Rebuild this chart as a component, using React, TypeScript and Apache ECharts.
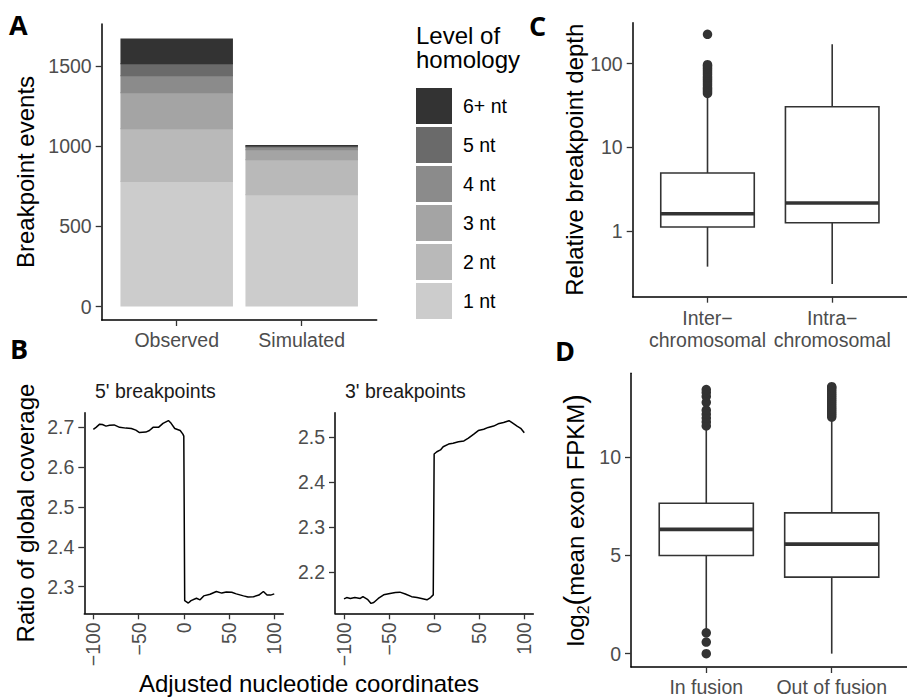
import React, { useEffect, useRef } from 'react';
import * as echarts from 'echarts';

// ---------- Panel A ----------
const barCategories = ['Observed', 'Simulated'];
const homologyLevels = ['1 nt', '2 nt', '3 nt', '4 nt', '5 nt', '6+ nt'];
const observedCounts = [785, 330, 224, 106, 75, 154];
const simulatedCounts = [703, 218, 62, 17, 6, 2];
const homologyColors = ['#cccccc', '#b9b9b9', '#a4a4a4', '#8b8b8b', '#6a6a6a', '#333333'];
const countTicks = [0, 500, 1000, 1500];

// ---------- Panel B ----------
const ntTicks = [-100, -50, 0, 50, 100];
const fivePrimeNt = [-100, -97, -93, -90, -86, -82, -77, -71, -64, -58, -53, -49, -42, -38, -34, -28, -23, -17, -14, -10, -4, -1, 0, 1, 5, 8, 14, 18, 22, 29, 36, 42, 47, 53, 58, 66, 71, 77, 83, 88, 92, 96, 100];
const fivePrimeRatio = [2.695, 2.700, 2.708, 2.707, 2.703, 2.705, 2.706, 2.700, 2.698, 2.697, 2.693, 2.687, 2.688, 2.692, 2.700, 2.700, 2.710, 2.717, 2.710, 2.697, 2.692, 2.683, 2.678, 2.265, 2.259, 2.265, 2.271, 2.267, 2.277, 2.281, 2.288, 2.284, 2.287, 2.286, 2.282, 2.277, 2.274, 2.275, 2.279, 2.288, 2.279, 2.279, 2.282];
const threePrimeNt = [-100, -97, -93, -88, -82, -79, -74, -70, -67, -62, -56, -49, -43, -38, -32, -25, -19, -14, -8, -4, -1, 0, 3, 7, 10, 16, 21, 27, 33, 38, 44, 49, 55, 60, 66, 71, 77, 83, 86, 92, 96, 100];
const threePrimeRatio = [2.141, 2.144, 2.142, 2.144, 2.142, 2.146, 2.140, 2.131, 2.133, 2.142, 2.150, 2.153, 2.155, 2.156, 2.152, 2.146, 2.144, 2.142, 2.139, 2.144, 2.150, 2.463, 2.468, 2.472, 2.479, 2.485, 2.487, 2.490, 2.492, 2.498, 2.507, 2.515, 2.518, 2.522, 2.525, 2.530, 2.533, 2.537, 2.533, 2.525, 2.520, 2.510];
const fivePrimeTicks = [2.3, 2.4, 2.5, 2.6, 2.7];
const threePrimeTicks = [2.2, 2.3, 2.4, 2.5];

// ---------- Panel C ----------
const depthCategories = ['Inter\u2212\nchromosomal', 'Intra\u2212\nchromosomal'];
// min, Q1, median, Q3, max
const interDepthBox = [0.375, 1.116, 1.61, 4.93, 40.2];
const intraDepthBox = [0.233, 1.256, 2.16, 30.5, 170];
const interDepthOutliers = [44, 46, 48, 50, 52, 55, 58, 61, 64, 67, 70, 74, 78, 82, 86, 90, 94, 97, 224];
const depthTicks = [1, 10, 100];

// ---------- Panel D ----------
const fpkmCategories = ['In fusion', 'Out of fusion'];
const inFusionBox = [1.2, 5.0, 6.33, 7.66, 11.5];
const outFusionBox = [0.0, 3.9, 5.58, 7.17, 11.95];
const inFusionOutliers = [0, 0.59, 1.06, 11.6, 11.8, 12.0, 12.2, 12.4, 12.8, 13.1, 13.3, 13.45];
const outFusionOutliers = [12.05, 12.15, 12.25, 12.35, 12.45, 12.55, 12.65, 12.75, 12.85, 12.95, 13.05, 13.15, 13.25, 13.35, 13.45, 13.55, 13.6];
const fpkmTicks = [0, 5, 10];

const FONT = '"Liberation Sans", Arial, Helvetica, sans-serif';
const TICK_COLOR = '#4d4d4d';
const TICK_SIZE = 19.5;
const TITLE_SIZE = 24;

const fmtMinus = (v: number) => String(v).replace('-', '\u2212');

function xAxisDef(gridIndex: number, min: number, max: number, ticks: number[], formatter: any, extraLabel: any = {}) {
  return {
    type: 'value', gridIndex, min, max,
    splitLine: { show: false },
    axisLine: { show: true, onZero: false, lineStyle: { color: '#000', width: 1.5 } },
    axisTick: { show: true, customValues: ticks, length: 6, lineStyle: { color: '#333', width: 1.3 } },
    axisLabel: { show: true, customValues: ticks, formatter, color: TICK_COLOR, fontSize: TICK_SIZE, fontFamily: FONT, margin: 10, ...extraLabel },
  };
}

function yAxisDef(gridIndex: number, min: number, max: number, ticks: number[], formatter: any, name: string, nameGap: number, nameStyle: any = {}) {
  return {
    type: 'value', gridIndex, min, max,
    splitLine: { show: false },
    axisLine: { show: true, onZero: false, lineStyle: { color: '#000', width: 1.5 } },
    axisTick: { show: true, customValues: ticks, length: 6, lineStyle: { color: '#333', width: 1.3 } },
    axisLabel: { show: true, customValues: ticks, formatter, color: TICK_COLOR, fontSize: TICK_SIZE, fontFamily: FONT, margin: 10 },
    name, nameLocation: 'middle', nameGap,
    nameTextStyle: { color: '#000', fontSize: TITLE_SIZE, fontFamily: FONT, ...nameStyle },
  };
}

// stacked bar segment: [x, lower, upper]
const renderStackBar = (params: any, api: any) => {
  const x = api.value(0);
  const lower = api.value(1);
  const p0 = api.coord([x - 0.45, lower]);
  const p1 = api.coord([x + 0.45, api.value(2)]);
  // overlap the segment below by 1px so no seam shows between stacked pieces
  const extra = lower > 0 ? 1.2 : 0;
  return {
    type: 'rect',
    shape: { x: p0[0], y: p1[1], width: p1[0] - p0[0], height: p0[1] - p1[1] + extra },
    style: { fill: api.visual('color') },
  };
};

const renderBox = (params: any, api: any) => {
  const x = api.value(0);
  const halfW = 0.375;
  const pMin = api.coord([x, api.value(1)]);
  const pQ1 = api.coord([x, api.value(2)]);
  const pMed = api.coord([x, api.value(3)]);
  const pQ3 = api.coord([x, api.value(4)]);
  const pMax = api.coord([x, api.value(5)]);
  const left = api.coord([x - halfW, api.value(3)])[0];
  const right = api.coord([x + halfW, api.value(3)])[0];
  const st = { stroke: '#333333', lineWidth: 1.6, fill: null };
  return {
    type: 'group',
    children: [
      { type: 'line', shape: { x1: pMin[0], y1: pMin[1], x2: pQ1[0], y2: pQ1[1] }, style: st },
      { type: 'line', shape: { x1: pQ3[0], y1: pQ3[1], x2: pMax[0], y2: pMax[1] }, style: st },
      { type: 'rect', shape: { x: left, y: pQ3[1], width: right - left, height: pQ1[1] - pQ3[1] }, style: { fill: '#ffffff', stroke: '#333333', lineWidth: 1.6 } },
      { type: 'line', shape: { x1: left, y1: pMed[1], x2: right, y2: pMed[1] }, style: { stroke: '#333333', lineWidth: 3.6 } },
    ],
  };
};

function buildOption() {
  const cum = [0, 0];
  const barSeries = homologyLevels.map((lvl, i) => {
    const counts = [observedCounts[i], simulatedCounts[i]];
    const data = counts.map((c, j) => {
      const lo = cum[j];
      cum[j] += c;
      return [j + 1, lo, cum[j], c];
    });
    return {
      name: lvl, type: 'custom', xAxisIndex: 0, yAxisIndex: 0,
      renderItem: renderStackBar,
      encode: { x: 0, y: [1, 2] },
      itemStyle: { color: homologyColors[i] },
      z: 2 + i * 0.01,
      data,
    };
  });

  const depthBoxData = [interDepthBox, intraDepthBox].map((b, i) => [i + 1, ...b.map((v) => Math.log10(v))]);
  const fpkmBoxData = [inFusionBox, outFusionBox].map((b, i) => [i + 1, ...b]);

  const letter = (t: string, x: number, y: number) => ({
    type: 'text', x, y,
    style: { text: t, font: `bold 27px "Open Sans", "DejaVu Sans", sans-serif`, fill: '#000', textVerticalAlign: 'middle' },
  });
  const txt = (t: string, x: number, y: number, size: number, color = '#000', align = 'left') => ({
    type: 'text', x, y,
    style: { text: t, font: `${size}px ${FONT}`, fill: color, textVerticalAlign: 'middle', textAlign: align },
  });

  return {
    animation: false,
    backgroundColor: '#ffffff',
    grid: [
      { left: 101.7, top: 24, width: 275, height: 296 },
      { left: 84.3, top: 412.7, width: 199, height: 200.6 },
      { left: 335, top: 412.7, width: 198.3, height: 200.6 },
      { left: 632.7, top: 22.7, width: 282.3, height: 274 },
      { left: 631, top: 373.3, width: 285.3, height: 296 },
    ],
    xAxis: [
      xAxisDef(0, 0.4, 2.6, [1, 2], (v: number) => barCategories[Math.round(v) - 1]),
      xAxisDef(1, -110, 110, ntTicks, fmtMinus, { rotate: 90, margin: 9 }),
      xAxisDef(2, -110, 110, ntTicks, fmtMinus, { rotate: 90, margin: 9 }),
      xAxisDef(3, 0.4, 2.6, [1, 2], (v: number) => depthCategories[Math.round(v) - 1], { lineHeight: 22 }),
      xAxisDef(4, 0.4, 2.6, [1, 2], (v: number) => fpkmCategories[Math.round(v) - 1]),
    ],
    yAxis: [
      yAxisDef(0, -84, 1764, countTicks, (v: number) => String(v), 'Breakpoint events', 64),
      yAxisDef(1, 2.2333, 2.7367, fivePrimeTicks, (v: number) => v.toFixed(1), 'Ratio of global coverage', 47),
      yAxisDef(2, 2.109, 2.5547, threePrimeTicks, (v: number) => v.toFixed(1), '', 0),
      yAxisDef(3, -0.785, 2.489, depthTicks.map((v) => Math.log10(v)), (v: number) => String(Math.round(Math.pow(10, v))), 'Relative breakpoint depth', 46),
      yAxisDef(4, -0.68, 14.28, fpkmTicks, (v: number) => String(v),
        '{a|log}{s|2}{p|(}{a|mean exon FPKM}{p|)}', 40, {
          rich: {
            a: { fontSize: TITLE_SIZE, fontFamily: FONT, color: '#000', lineHeight: 32 },
            s: { fontSize: 16, fontFamily: FONT, color: '#000', verticalAlign: 'bottom' },
            p: { fontSize: 29, fontFamily: FONT, color: '#000', lineHeight: 32 },
          },
        }),
    ],
    legend: {
      orient: 'vertical', left: 416, top: 88, padding: 0,
      itemWidth: 36, itemHeight: 36, itemGap: 3, selectedMode: false,
      data: [...homologyLevels].reverse().map((name) => ({ name, icon: 'rect' })),
      textStyle: { fontSize: TICK_SIZE, fontFamily: FONT, color: '#000', padding: [0, 0, 0, 6] },
    },
    graphic: [
      letter('A', 9, 24),
      letter('B', 10, 348),
      letter('C', 529, 25),
      letter('D', 555, 350),
      {
        type: 'text', x: 416, y: 23.5,
        style: { text: 'Level of\nhomology', font: `${TITLE_SIZE}px ${FONT}`, fill: '#000', textVerticalAlign: 'top', lineHeight: 24 },
      },
      txt("5' breakpoints", 95, 391, TICK_SIZE, '#1a1a1a'),
      txt("3' breakpoints", 345, 391, TICK_SIZE, '#1a1a1a'),
      txt('Adjusted nucleotide coordinates', 309, 683, TITLE_SIZE, '#000', 'center'),
    ],
    series: [
      ...barSeries,
      {
        type: 'line', xAxisIndex: 1, yAxisIndex: 1, showSymbol: false, symbol: 'none',
        lineStyle: { color: '#000', width: 1.5 },
        data: fivePrimeNt.map((x, i) => [x, fivePrimeRatio[i]]),
      },
      {
        type: 'line', xAxisIndex: 2, yAxisIndex: 2, showSymbol: false, symbol: 'none',
        lineStyle: { color: '#000', width: 1.5 },
        data: threePrimeNt.map((x, i) => [x, threePrimeRatio[i]]),
      },
      {
        type: 'custom', xAxisIndex: 3, yAxisIndex: 3, renderItem: renderBox,
        encode: { x: 0, y: [1, 2, 3, 4, 5] }, data: depthBoxData, z: 2,
      },
      {
        type: 'scatter', xAxisIndex: 3, yAxisIndex: 3, symbolSize: 9.5,
        itemStyle: { color: '#333333', opacity: 1 }, z: 3,
        data: interDepthOutliers.map((v) => [1, Math.log10(v)]),
      },
      {
        type: 'custom', xAxisIndex: 4, yAxisIndex: 4, renderItem: renderBox,
        encode: { x: 0, y: [1, 2, 3, 4, 5] }, data: fpkmBoxData, z: 2,
      },
      {
        type: 'scatter', xAxisIndex: 4, yAxisIndex: 4, symbolSize: 9.5,
        itemStyle: { color: '#333333', opacity: 1 }, z: 3,
        data: [
          ...inFusionOutliers.map((v) => [1, v]),
          ...outFusionOutliers.map((v) => [2, v]),
        ],
      },
    ],
  };
}

export default function App() {
  const ref = useRef<HTMLDivElement>(null);
  useEffect(() => {
    if (!ref.current) return;
    const chart = echarts.init(ref.current, undefined, { renderer: 'svg' });
    chart.setOption(buildOption() as any);
    return () => chart.dispose();
  }, []);
  return (
    <div
      ref={ref}
      style={{ position: 'fixed', left: 0, top: 0, width: 907, height: 697, background: '#fff' }}
    />
  );
}
